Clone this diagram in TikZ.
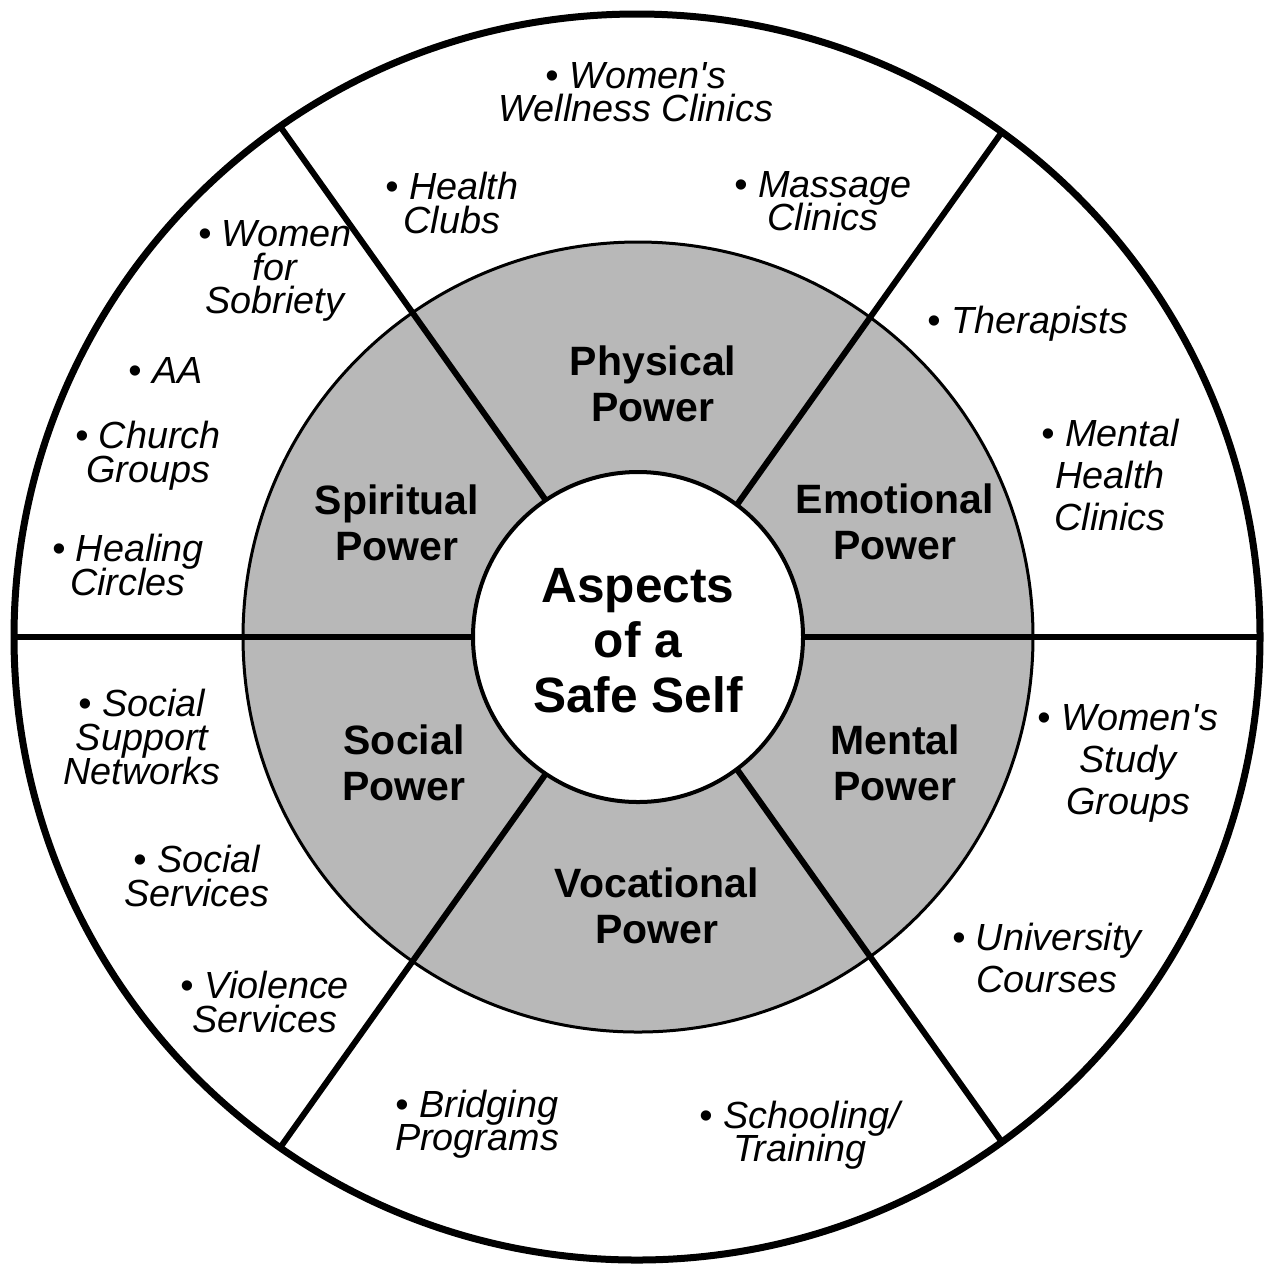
\documentclass[tikz,border=0pt]{standalone}
\usepackage{fontspec}
\setmainfont{Liberation Sans}[Ligatures=TeXOff]
\usetikzlibrary{positioning}

\newcommand{\apertado}{\lineskiplimit=-100pt\relax}

\tikzset{
    recurso/.style={align=center, inner sep=0pt,
        font=\itshape\fontsize{18.9}{16.8}\selectfont\apertado},
    recursolargo/.style={recurso,
        font=\itshape\fontsize{18.9}{21}\selectfont\apertado},
    poder/.style={align=center, inner sep=0pt,
        font=\bfseries\fontsize{20.5}{23}\selectfont\apertado},
    linha/.style={line width=3pt},
}

\begin{document}
\begin{tikzpicture}[x=0.5pt, y=-0.5pt]
        \useasboundingbox (0,0) rectangle (1268,1266);

        % Fundo e anel cinza
        \fill[white] (637,637) circle (623);
        \draw[line width=1.5pt, fill=black!28] (638,637) circle (395);

        % Divisões
        \begin{scope}
            \clip (637,637) circle (623);
            \draw[linha] (637,637) -- (10,637);
            \draw[linha] (637,637) -- (1264,637);
            \foreach \a in {54.6,125.4,234.6,305.4} {
                \draw[linha] (643,637) ++(\a:150) -- ++(\a:600);
            }
        \end{scope}

        % Círculo central
        \draw[line width=2pt, fill=white] (638,637) circle (165);
        % Círculo externo
        \draw[line width=3.5pt] (637,637) circle (623);

        % Centro
        \node[align=center, inner sep=0pt,
            font=\bfseries\fontsize{24.8}{27.5}\selectfont\apertado] (centro) at (638,641)
            {Aspects\\of a\\Safe Self};

        % Aspectos
        \node[poder] (fisico) at (653,384) {Physical\\Power};
        \node[poder] (espiritual) at (397,523) {Spiritual\\Power};
        \node[poder] (emocional) at (895,522) {Emotional\\Power};
        \node[poder] (social) at (404,763) {Social\\Power};
        \node[poder] (mental) at (895,763) {Mental\\Power};
        \node[poder] (vocacional) at (657,906) {Vocational\\Power};

        % Recursos - topo
        \node[recurso] (bemestar) at (636,92) {\textbullet\ Women's\\Wellness Clinics};
        \node[recurso] (academia) at (452,203) {\textbullet\ Health\\Clubs};
        \node[recurso] (massagem) at (823,201) {\textbullet\ Massage\\Clinics};

        % Recursos - esquerda
        \node[recurso] (sobriedade) at (275,271) {\textbullet\ Women\\for\\Sobriety};
        \node[recurso] (aa) at (166,370) {\textbullet\ AA};
        \node[recurso] (igreja) at (148,456) {\textbullet\ Church\\Groups};
        \node[recurso] (cura) at (128,565) {\textbullet\ Healing\\Circles};

        % Recursos - direita
        \node[recurso] (terapeutas) at (1028,324) {\textbullet\ Therapists};
        \node[recursolargo] (saudemental) at (1110,475) {\textbullet\ Mental\\Health\\Clinics};
        \node[recursolargo] (estudo) at (1128,763) {\textbullet\ Women's\\Study\\Groups};
        \node[recursolargo] (universidade) at (1047,958) {\textbullet\ University\\Courses};

        % Recursos - baixo
        \node[recurso] (escola) at (800,1135) {\textbullet\ Schooling/\\Training};
        \node[recurso] (ponte) at (477,1124) {\textbullet\ Bridging\\Programs};
        \node[recurso] (violencia) at (265,1002) {\textbullet\ Violence\\Services};
        \node[recurso] (servicos) at (197,876) {\textbullet\ Social\\Services};
        \node[recurso] (redes) at (142,737) {\textbullet\ Social\\Support\\Networks};
    \end{tikzpicture}
\end{document}
